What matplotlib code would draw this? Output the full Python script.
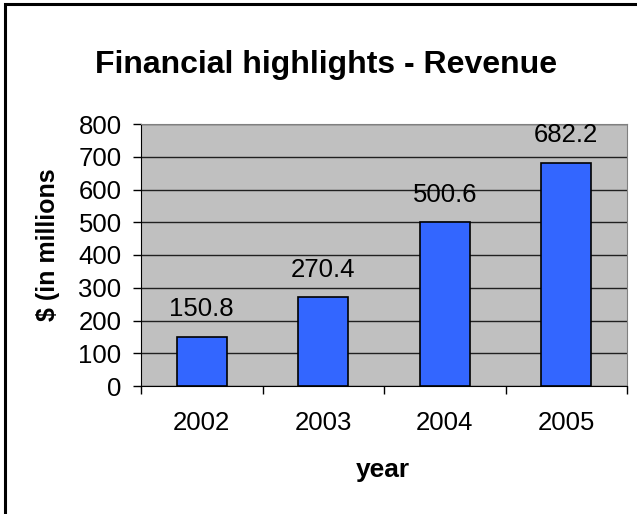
import matplotlib
matplotlib.use('Agg')
import matplotlib.pyplot as plt
from matplotlib.patches import Rectangle
import numpy as np

plt.rcParams['font.family'] = ['Liberation Sans', 'DejaVu Sans']

years = ['2002', '2003', '2004', '2005']
revenue = [150.8, 270.4, 500.6, 682.2]
yticks = [0, 100, 200, 300, 400, 500, 600, 700, 800]

W, H = 637, 514
fig = plt.figure(figsize=(W/100, H/100), dpi=100)

# outer chart border (right/bottom edges fall outside the image)
fig.patches.append(Rectangle((5/W, -0.1), 1.2, 1 - 4/H + 0.1, transform=fig.transFigure,
                             fill=False, edgecolor='black', linewidth=2.2))

# plot area in pixel units
l, r, t, b = 141, 627, 124, 386
ax = fig.add_axes([l/W, (H-b)/H, (r-l)/W, (b-t)/H])
ax.set_facecolor('#C0C0C0')

x = np.arange(len(years))
bars = ax.bar(x, revenue, width=0.41, color='#3366FF', edgecolor='black', linewidth=1.2, zorder=3)

for xi, v in zip(x, revenue):
    ax.annotate(f'{v:.1f}', (xi, v), xytext=(0, 14.5), textcoords='offset points',
                ha='center', va='baseline', fontsize=18.5)

ax.set_xlim(-0.5, len(years) - 0.5)
ax.set_ylim(0, 800)
ax.set_yticks(yticks)
ax.yaxis.grid(True, color='#202020', linewidth=1.0, zorder=1)
ax.set_axisbelow(True)

# x ticks sit on category boundaries, labels in between
ax.set_xticks(np.arange(len(years) + 1) - 0.5)
ax.set_xticklabels([])
ax.set_xticks(x, minor=True)
ax.set_xticklabels(years, minor=True)
ax.tick_params(axis='x', which='minor', length=0, pad=18, labelsize=18.5)
ax.tick_params(axis='x', which='major', length=6, width=1)
ax.tick_params(axis='y', length=6, width=1, pad=8, labelsize=18.5)

ax.spines['left'].set_color('black')
ax.spines['bottom'].set_color('black')
ax.spines['top'].set_color('#808080')
ax.spines['right'].set_color('#808080')

fig.text(326/W, 1 - 73/H, 'Financial highlights - Revenue', ha='center', va='baseline',
         fontsize=23, fontweight='bold')
fig.text(48/W, 1 - 245/H, '$ (in millions', rotation=90, ha='center', va='center',
         fontsize=18, fontweight='bold')
fig.text(383/W, 1 - 470/H, 'year', ha='center', va='center', fontsize=19, fontweight='bold')

plt.savefig('out.png', dpi=100)
